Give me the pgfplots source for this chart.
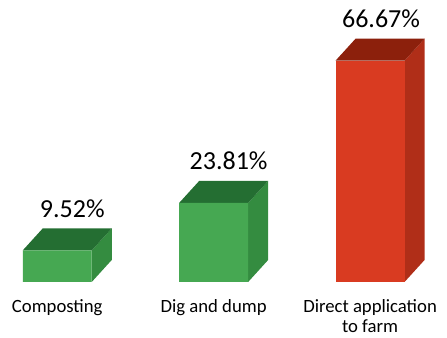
\documentclass[border=0pt]{standalone}
\usepackage{fontspec}
\setmainfont{Carlito}
\usepackage{pgfplots}
\pgfplotsset{compat=1.18}
\definecolor{gfront}{RGB}{70,168,82}
\definecolor{gside}{RGB}{52,140,64}
\definecolor{gtop}{RGB}{36,110,50}
\definecolor{rfront}{RGB}{217,59,33}
\definecolor{rside}{RGB}{176,46,24}
\definecolor{rtop}{RGB}{140,32,12}
\newcommand{\farmlabel}{\vtop{\baselineskip=20pt\halign{\hfil##\hfil\cr Direct application\cr to farm\cr}}}
\begin{document}
\begin{tikzpicture}
\begin{axis}[
  scale only axis,
  width=447pt, height=338pt,
  xmin=-0.366, xmax=2.492,
  ymin=-16.87, ymax=84.94,
  clip=false,
  axis y line=none,
  axis x line=middle,
  axis line style={draw=none},
  xtick={0,1,2},
  xticklabels={Composting, Dig and dump, \farmlabel},
  xtick style={draw=none},
  major tick length=0pt,
  ytick=\empty,
  xticklabel style={anchor=base, yshift=-30.5pt, inner sep=0pt,
    font=\fontsize{18.7}{20}\selectfont},
  bar width=0.441, bar shift=0pt,
  /pgf/number format/assume math mode=true,
]
% side faces
\addplot[fill=gside, draw=none, sharp plot] coordinates {(0.2205,0) (0.3485,6.63) (0.3485,16.15) (0.2205,9.52)} -- cycle;
\addplot[fill=gside, draw=none, sharp plot] coordinates {(1.2205,0) (1.3485,6.63) (1.3485,30.44) (1.2205,23.81)} -- cycle;
\addplot[fill=rside, draw=none, sharp plot] coordinates {(2.2205,0) (2.3485,6.63) (2.3485,73.30) (2.2205,66.67)} -- cycle;
% top faces
\addplot[fill=gtop, draw=none, sharp plot] coordinates {(-0.2205,9.52) (0.2205,9.52) (0.3485,16.15) (-0.0925,16.15)} -- cycle;
\addplot[fill=gtop, draw=none, sharp plot] coordinates {(0.7795,23.81) (1.2205,23.81) (1.3485,30.44) (0.9075,30.44)} -- cycle;
\addplot[fill=rtop, draw=none, sharp plot] coordinates {(1.7795,66.67) (2.2205,66.67) (2.3485,73.30) (1.9075,73.30)} -- cycle;
% front faces
\addplot[ybar, fill=gfront, draw=none,
  nodes near coords={\pgfmathprintnumber[fixed,precision=2,fixed zerofill]{\pgfplotspointmeta}\%},
  nodes near coords style={anchor=base, xshift=15pt, yshift=33pt, text=black, font=\fontsize{26}{30}\selectfont}]
  coordinates {(0,9.52) (1,23.81)};
\addplot[ybar, fill=rfront, draw=none,
  nodes near coords={\pgfmathprintnumber[fixed,precision=2,fixed zerofill]{\pgfplotspointmeta}\%},
  nodes near coords style={anchor=base, xshift=11pt, yshift=33pt, text=black, font=\fontsize{26}{30}\selectfont}]
  coordinates {(2,66.67)};
\end{axis}
\pgfresetboundingbox
\useasboundingbox (current axis.south west) rectangle (current axis.north east);
\end{tikzpicture}
\end{document}
